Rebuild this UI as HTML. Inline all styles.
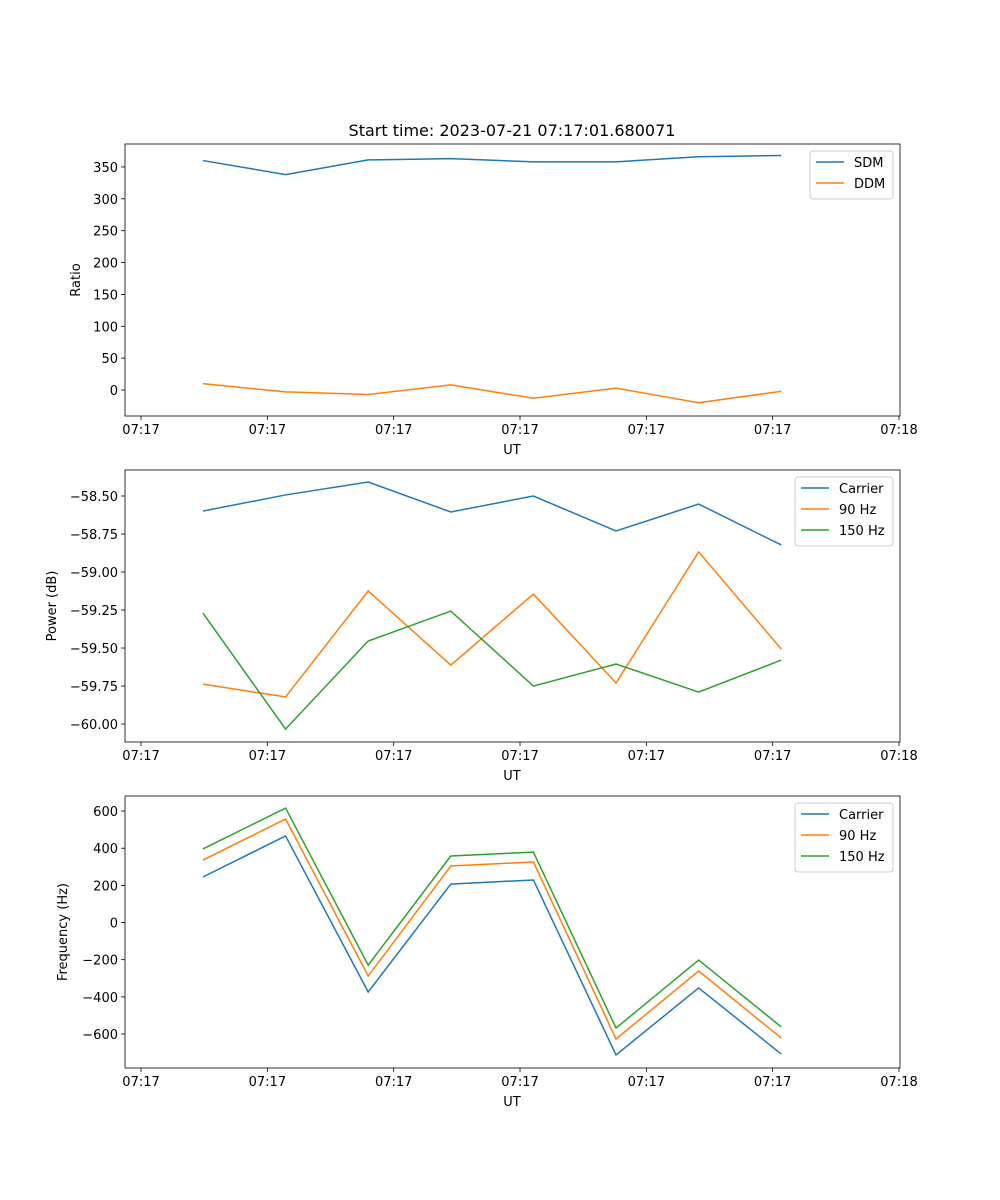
<!DOCTYPE html>
<html><head><meta charset="utf-8"><style>
body{margin:0;background:#fff}
svg{display:block;font-family:"DejaVu Sans","Liberation Sans",sans-serif}
</style></head><body>
<svg id="fig" width="1000" height="1200" viewBox="0 0 1000 1200">
<rect width="1000" height="1200" fill="#fff"/>
<text x="512" y="136" font-size="16" text-anchor="middle">Start time: 2023-07-21 07:17:01.680071</text>
</svg>
<script>
const times=[4.9,11.44,17.98,24.52,31.06,37.6,44.14,50.68];
const xTicks=[0,10,20,30,40,50,60];
const xTickLabels=["07:17","07:17","07:17","07:17","07:17","07:17","07:18"];
const sdm=[360,338,361,363,358,358,366,368];
const ddm=[10,-3,-7,8,-13,3,-20,-2];
const ratioTicks=[0,50,100,150,200,250,300,350];
const pCarrier=[-58.599,-58.493,-58.408,-58.605,-58.5,-58.73,-58.553,-58.822];
const p90=[-59.737,-59.822,-59.125,-59.612,-59.145,-59.73,-58.868,-59.507];
const p150=[-59.27,-60.033,-59.454,-59.257,-59.75,-59.605,-59.79,-59.579];
const powerTicks=[-60,-59.75,-59.5,-59.25,-59,-58.75,-58.5];
const fCarrier=[245,466,-374,207,229,-713,-352,-708];
const f90=[336,557,-288,304,326,-627,-261,-622];
const f150=[396,616,-229,358,379,-568,-202,-562];
const freqTicks=[-600,-400,-200,0,200,400,600];

const NS="http://www.w3.org/2000/svg";
const svg=document.getElementById('fig');
function el(tag,attrs,parent){const e=document.createElementNS(NS,tag);for(const k in attrs)e.setAttribute(k,attrs[k]);(parent||svg).appendChild(e);return e;}
const C=['#1f77b4','#ff7f0e','#2ca02c'];
const L=125,R=900,X0=-1.27,X1=60.08;
const xs=t=>L+(t-X0)/(X1-X0)*(R-L);

function panel(name,top,bot,y0,y1,ticks,fmt,ylabel,series,names,leg){
  const ys=v=>bot-(v-y0)/(y1-y0)*(bot-top);
  const g=el('g',{});
  
  
  xTicks.forEach((t,i)=>{
    const x=xs(t);
    el('line',{x1:x,x2:x,y1:bot,y2:bot+4,stroke:'#000','stroke-width':0.8},g);
    const tx=el('text',{x:x,y:bot+18,'font-size':13,'text-anchor':'middle'},g);
    tx.textContent=xTickLabels[i];
    
    
  });
  ticks.forEach(v=>{
    const y=ys(v);
    el('line',{x1:L-4,x2:L,y1:y,y2:y,stroke:'#000','stroke-width':0.8},g);
    const tx=el('text',{x:L-7,y:y+5,'font-size':13,'text-anchor':'end'},g);
    tx.textContent=fmt(v);
    
    
  });
  const xl=el('text',{x:512,y:bot+38,'font-size':13,'text-anchor':'middle'},g);
  xl.textContent='UT';
  
  
  const yc=(top+bot)/2;
  const yl=el('text',{x:leg.yx,y:yc,'font-size':13,'text-anchor':'middle',transform:`rotate(-90 ${leg.yx} ${yc})`},g);
  yl.textContent=ylabel;
  
  
  series.forEach((s,k)=>{
    const p=el('polyline',{points:s.map((v,i)=>xs(times[i])+','+ys(v)).join(' '),fill:'none',stroke:C[k],'stroke-width':1.5},g);
    
    
  });
  el('rect',{x:L,y:top,width:R-L,height:bot-top,fill:'none',stroke:'#000','stroke-width':0.8},g);
  const lg=el('g',{},g);
  
  
  el('rect',{x:leg.x,y:top+7,width:893-leg.x,height:names.length*21+6,rx:3,fill:'#fff',stroke:'#ccc','stroke-width':1},lg);
  names.forEach((n,k)=>{
    const y=top+18+k*21;
    el('line',{x1:leg.x+6,x2:leg.x+34,y1:y,y2:y,stroke:C[k],'stroke-width':1.5},lg);
    const t=el('text',{x:leg.x+44,y:y+5,'font-size':13},lg);
    t.textContent=n;
    
    
  });
}
const minus=s=>s.replace('-','\u2212');
panel('ratio',144,416,-40.8,386,ratioTicks,v=>minus(String(v)),'Ratio',[sdm,ddm],['SDM','DDM'],{x:810,yx:80});
panel('power',470,742,-60.118,-58.329,powerTicks,v=>minus(v.toFixed(2)),'Power (dB)',[pCarrier,p90,p150],['Carrier','90 Hz','150 Hz'],{x:795,yx:56});
panel('frequency',796,1068,-783,681,freqTicks,v=>minus(String(v)),'Frequency (Hz)',[fCarrier,f90,f150],['Carrier','90 Hz','150 Hz'],{x:795,yx:67});
</script>
</body></html>
